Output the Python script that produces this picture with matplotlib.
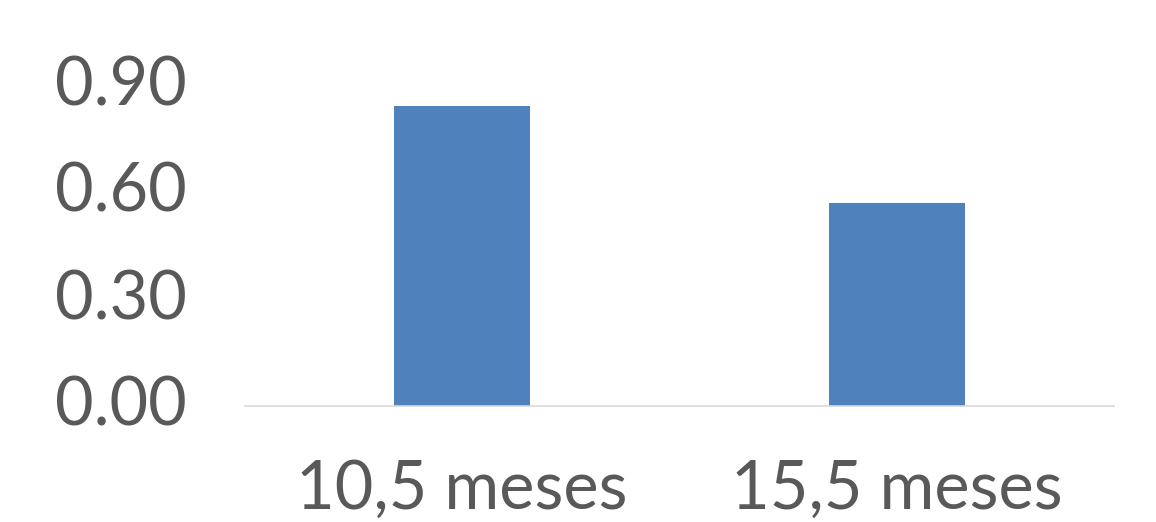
import matplotlib.pyplot as plt
import matplotlib.transforms as mtransforms
import numpy as np

# data
categories = ["10,5 meses", "15,5 meses"]
values = [0.84, 0.57]
yticks = [0.00, 0.30, 0.60, 0.90]

plt.rcParams["font.family"] = ["Lato", "DejaVu Sans"]

fig = plt.figure(figsize=(11.56, 5.22), dpi=100)
ax = fig.add_axes([245 / 1156, 1 - 406 / 522, (1114 - 245) / 1156, (406 - 85) / 522])

x = np.arange(len(categories))
ax.bar(x, values, width=0.313, color="#4F81BD")

ax.set_xlim(-0.5, len(categories) - 0.5)
ax.set_ylim(0, 0.9)
ax.set_yticks(yticks)
ax.set_yticklabels([f"{v:.2f}" for v in yticks])
ax.set_xticks(x)
ax.set_xticklabels(categories)

for side in ["top", "right", "left"]:
    ax.spines[side].set_visible(False)
ax.spines["bottom"].set_color("#D9D9D9")
ax.spines["bottom"].set_linewidth(1.2)

ax.tick_params(axis="both", length=0, labelsize=48, colors="#595959")
ax.tick_params(axis="y", pad=42)
ax.tick_params(axis="x", pad=38)

# nudge y labels up a little, as in the original
shift = mtransforms.ScaledTranslation(0, 5 / 100, fig.dpi_scale_trans)
for lbl in ax.get_yticklabels():
    lbl.set_transform(lbl.get_transform() + shift)

fig.savefig("out.png", dpi=100)
